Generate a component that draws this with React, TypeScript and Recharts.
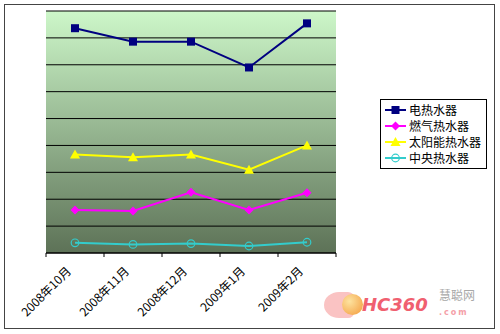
import { LineChart, Line, XAxis, YAxis, CartesianGrid } from 'recharts'

const months = ['2008年10月', '2008年11月', '2008年12月', '2009年1月', '2009年2月']
const electric = [41.8, 39.3, 39.3, 34.5, 42.7]
const gas = [8.0, 7.8, 11.3, 8.0, 11.2]
const solar = [18.3, 17.8, 18.3, 15.5, 20.0]
const central = [1.9, 1.6, 1.75, 1.3, 2.0]
const yTicks = [0, 5, 10, 15, 20, 25, 30, 35, 40]

const seriesNames = ['电热水器', '燃气热水器', '太阳能热水器', '中央热水器']
const seriesColors = ['#000080', '#ff00ff', '#ffff00', '#33cccc']

const data = months.map((m, i) => ({
  month: m,
  electric: electric[i],
  gas: gas[i],
  solar: solar[i],
  central: central[i],
}))

const FONT = '"Noto Sans CJK SC", "DejaVu Sans", sans-serif'

const Marker = ({ kind, cx, cy, color }: { kind: number; cx: number; cy: number; color: string }) => {
  if (kind === 0) return <rect x={cx - 4} y={cy - 4} width={8} height={8} fill={color} />
  if (kind === 1) return <polygon points={`${cx},${cy - 4.5} ${cx + 4.5},${cy} ${cx},${cy + 4.5} ${cx - 4.5},${cy}`} fill={color} />
  if (kind === 2) return <polygon points={`${cx},${cy - 5} ${cx + 5},${cy + 4} ${cx - 5},${cy + 4}`} fill={color} />
  return <circle cx={cx} cy={cy} r={3.8} fill="none" stroke={color} strokeWidth={1.2} />
}

const dotFor = (kind: number) => (props: any) => (
  <Marker key={`${kind}-${props.index}`} kind={kind} cx={props.cx} cy={props.cy} color={seriesColors[kind]} />
)

const MonthTick = (props: any) => {
  const { x, y, payload, index } = props
  const half = 29
  const tx = x - 3
  const ty = y + 11
  return (
    <g>
      <line x1={x - half} y1={y - 8} x2={x - half} y2={y - 4} stroke="#000" />
      {index === months.length - 1 && <line x1={x + half} y1={y - 8} x2={x + half} y2={y - 4} stroke="#000" />}
      <text
        x={tx}
        y={ty}
        textAnchor="end"
        transform={`rotate(-45 ${tx} ${ty})`}
        fontSize={12}
        fontFamily={FONT}
        fill="#000"
      >
        {payload.value}
      </text>
    </g>
  )
}

const LegendBox = () => (
  <div
    style={{
      position: 'absolute',
      left: 380,
      top: 99,
      border: '1px solid #000',
      background: '#fff',
      width: 105,
      padding: '2px 0 2px 0',
      fontFamily: FONT,
      fontSize: 12,
      lineHeight: '16px',
    }}
  >
    {seriesNames.map((name, i) => (
      <div key={name} style={{ display: 'flex', alignItems: 'center', whiteSpace: 'nowrap', height: 16 }}>
        <svg width={28} height={16}>
          <line x1={4} y1={8} x2={25} y2={8} stroke={seriesColors[i]} strokeWidth={2} />
          <Marker kind={i} cx={14.5} cy={8} color={seriesColors[i]} />
        </svg>
        <span>{name}</span>
      </div>
    ))}
  </div>
)

// rough stand-in for the hc360 watermark in the corner
const Watermark = () => (
  <div style={{ position: 'absolute', left: 322, top: 288, width: 170, height: 36, whiteSpace: 'nowrap', lineHeight: 1 }}>
    <div
      style={{
        position: 'absolute',
        left: 2,
        top: 4,
        width: 30,
        height: 26,
        borderRadius: '50% 20% 20% 50%',
        background: '#f9b4b4',
        opacity: 0.8,
      }}
    />
    <div
      style={{
        position: 'absolute',
        left: 20,
        top: 6,
        width: 21,
        height: 21,
        borderRadius: 11,
        background: 'radial-gradient(circle at 35% 35%, #fde3a0, #f39a3a)',
      }}
    />
    <span
      style={{
        position: 'absolute',
        left: 40,
        top: 8,
        fontFamily: '"DejaVu Sans", sans-serif',
        fontWeight: 'bold',
        fontStyle: 'italic',
        fontSize: 18,
        color: '#f06070',
      }}
    >
      HC360
    </span>
    <span style={{ position: 'absolute', left: 117, top: 1, fontFamily: FONT, fontSize: 12, color: '#a8a8a8' }}>慧聪网</span>
    <span
      style={{
        position: 'absolute',
        left: 117,
        top: 21,
        fontFamily: '"DejaVu Sans", sans-serif',
        fontWeight: 'bold',
        fontSize: 8,
        color: '#f4a0a8',
        letterSpacing: 2,
      }}
    >
      .com
    </span>
  </div>
)

export default function App() {
  return (
    <div style={{ position: 'absolute', left: 0, top: 0, width: 500, height: 334, background: '#fff' }}>
      <div
        style={{
          position: 'absolute',
          left: 4,
          top: 4,
          width: 489,
          height: 323,
          border: '1px solid #444',
        }}
      />
      <LineChart width={500} height={334} data={data} margin={{ top: 11, right: 164, left: 46, bottom: 21 }}>
        <defs>
          <linearGradient id="plotBg" x1="0" y1="0" x2="0" y2="1">
            <stop offset="0%" stopColor="#cdf7c9" />
            <stop offset="100%" stopColor="#5d7257" />
          </linearGradient>
        </defs>
        <CartesianGrid vertical={false} stroke="#000" strokeWidth={1} fill="url(#plotBg)" fillOpacity={1} />
        <XAxis
          dataKey="month"
          height={60}
          padding={{ left: 29, right: 29 }}
          tickLine={false}
          axisLine={{ stroke: '#000' }}
          tick={<MonthTick />}
          interval={0}
        />
        <YAxis hide domain={[0, 45]} ticks={yTicks} />
        <Line dataKey="electric" name={seriesNames[0]} stroke={seriesColors[0]} strokeWidth={2} dot={dotFor(0)} isAnimationActive={false} />
        <Line dataKey="gas" name={seriesNames[1]} stroke={seriesColors[1]} strokeWidth={2} dot={dotFor(1)} isAnimationActive={false} />
        <Line dataKey="solar" name={seriesNames[2]} stroke={seriesColors[2]} strokeWidth={2} dot={dotFor(2)} isAnimationActive={false} />
        <Line dataKey="central" name={seriesNames[3]} stroke={seriesColors[3]} strokeWidth={2} dot={dotFor(3)} isAnimationActive={false} />
      </LineChart>
      <LegendBox />
      <Watermark />
    </div>
  )
}
